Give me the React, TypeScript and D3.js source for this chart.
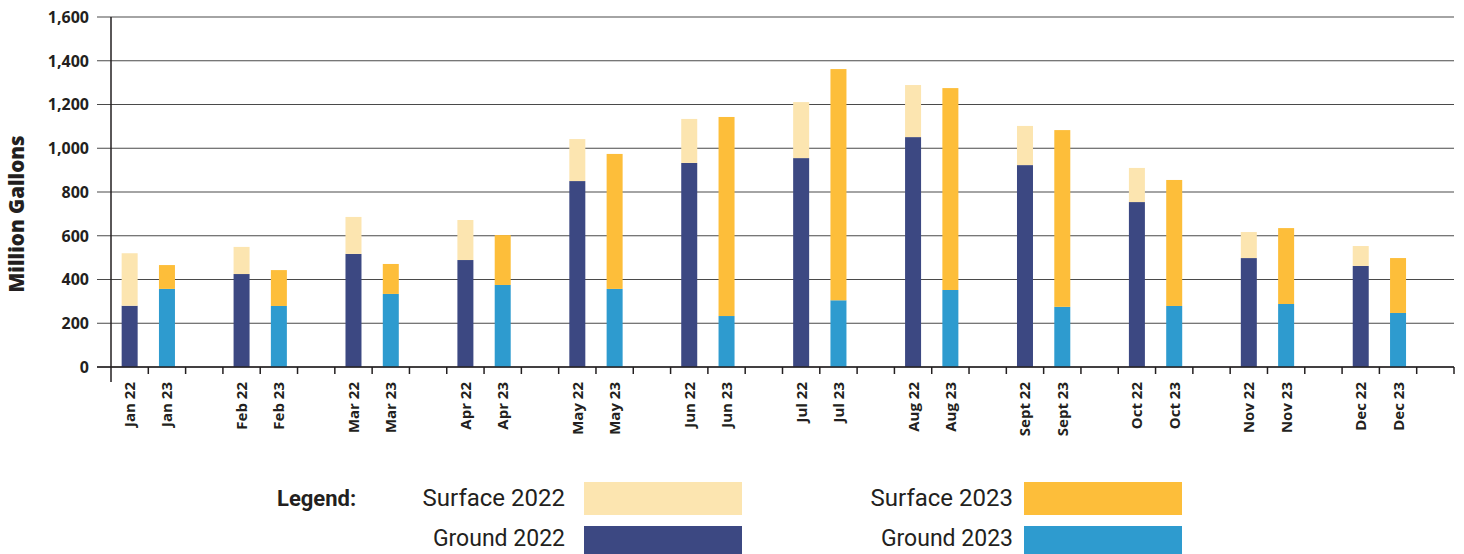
import { useMemo } from "react";
import * as d3 from "d3";

const months = ["Jan", "Feb", "Mar", "Apr", "May", "Jun", "Jul", "Aug", "Sept", "Oct", "Nov", "Dec"];
const ground2022 = [280, 425, 517, 489, 850, 933, 955, 1051, 923, 754, 498, 462];
const surface2022 = [240, 124, 169, 183, 192, 201, 256, 238, 179, 156, 119, 91];
const ground2023 = [357, 279, 334, 375, 357, 233, 305, 352, 275, 279, 288, 247];
const surface2023 = [109, 164, 137, 228, 617, 910, 1057, 923, 808, 576, 347, 251];
const yTicks = [0, 200, 400, 600, 800, 1000, 1200, 1400, 1600];

const colors = {
  surface22: "#FCE5B0",
  ground22: "#3C4882",
  surface23: "#FDBE3A",
  ground23: "#2E9BCF",
};

const W = 1464;
const H = 554;
const left = 111;
const right = 1454;
const top = 17;
const bottom = 367;
const barW = 16;
const tickFont = "'Open Sans', 'DejaVu Sans', sans-serif";
const legendFont = "Roboto, 'Liberation Sans', sans-serif";

export default function App() {
  const slots = useMemo(
    () => months.flatMap((m) => [`${m} 22`, `${m} 23`, `${m} gap`]),
    []
  );

  const x = d3.scaleBand<string>().domain(slots).range([left, right]).padding(0);
  const y = d3.scaleLinear().domain([0, 1600]).range([bottom, top]);

  const bars = months.flatMap((m, i) => [
    { key: `${m} 22`, ground: ground2022[i], surface: surface2022[i], gc: colors.ground22, sc: colors.surface22 },
    { key: `${m} 23`, ground: ground2023[i], surface: surface2023[i], gc: colors.ground23, sc: colors.surface23 },
  ]);

  const tickXs = slots.map((s) => x(s)!).concat([right]).slice(1);

  return (
    <svg
      width={W}
      height={H}
      style={{ position: "absolute", left: 0, top: 0, background: "#fff" }}
    >
      {/* grid lines */}
      {yTicks.map((t) => (
        <g key={t}>
          <line x1={97} x2={right} y1={y(t)} y2={y(t)} stroke="#4a4a4a" strokeWidth={1.2} />
          <text
            x={89}
            y={y(t)}
            dy="0.36em"
            textAnchor="end"
            fontFamily={tickFont}
            fontWeight={700}
            fontSize={16}
            fill="#231f20"
          >
            {d3.format(",")(t)}
          </text>
        </g>
      ))}

      {/* bars */}
      {bars.map((b) => {
        const cx = x(b.key)! + x.bandwidth() / 2;
        return (
          <g key={b.key}>
            <rect
              x={cx - barW / 2}
              width={barW}
              y={y(b.ground)}
              height={y(0) - y(b.ground)}
              fill={b.gc}
            />
            <rect
              x={cx - barW / 2}
              width={barW}
              y={y(b.ground + b.surface)}
              height={y(b.ground) - y(b.ground + b.surface)}
              fill={b.sc}
            />
            <text
              transform={`translate(${cx + 5.5},382) rotate(-90)`}
              textAnchor="end"
              fontFamily={tickFont}
              fontWeight={700}
              fontSize={15}
              fill="#231f20"
            >
              {b.key}
            </text>
          </g>
        );
      })}

      {/* axes */}
      <line x1={left} x2={left} y1={top} y2={382} stroke="#231f20" strokeWidth={1.5} />
      <line x1={97} x2={right} y1={bottom} y2={bottom} stroke="#231f20" strokeWidth={1.5} />
      {tickXs.map((tx, i) => (
        <line key={i} x1={tx} x2={tx} y1={bottom} y2={374} stroke="#231f20" strokeWidth={1.5} />
      ))}

      {/* y label */}
      <text
        transform="translate(24,214) rotate(-90)"
        textAnchor="middle"
        fontFamily={tickFont}
        fontWeight={800}
        fontSize={20.5}
        fill="#231f20"
      >
        Million Gallons
      </text>

      {/* legend */}
      <text x={277} y={506} fontFamily={legendFont} fontWeight={700} fontSize={22} fill="#231f20">
        Legend:
      </text>
      {[
        { label: "Surface 2022", color: colors.surface22, tx: 565, sx: 584, row: 0 },
        { label: "Ground 2022", color: colors.ground22, tx: 565, sx: 584, row: 1 },
        { label: "Surface 2023", color: colors.surface23, tx: 1013, sx: 1024, row: 0 },
        { label: "Ground 2023", color: colors.ground23, tx: 1013, sx: 1024, row: 1 },
      ].map((l) => (
        <g key={l.label}>
          <text
            x={l.tx}
            y={l.row === 0 ? 506 : 546}
            textAnchor="end"
            fontFamily={legendFont}
            fontSize={l.row === 0 ? 24 : 23}
            fill="#231f20"
          >
            {l.label}
          </text>
          <rect x={l.sx} y={482 + l.row * 44} width={158} height={33} fill={l.color} />
        </g>
      ))}
    </svg>
  );
}
